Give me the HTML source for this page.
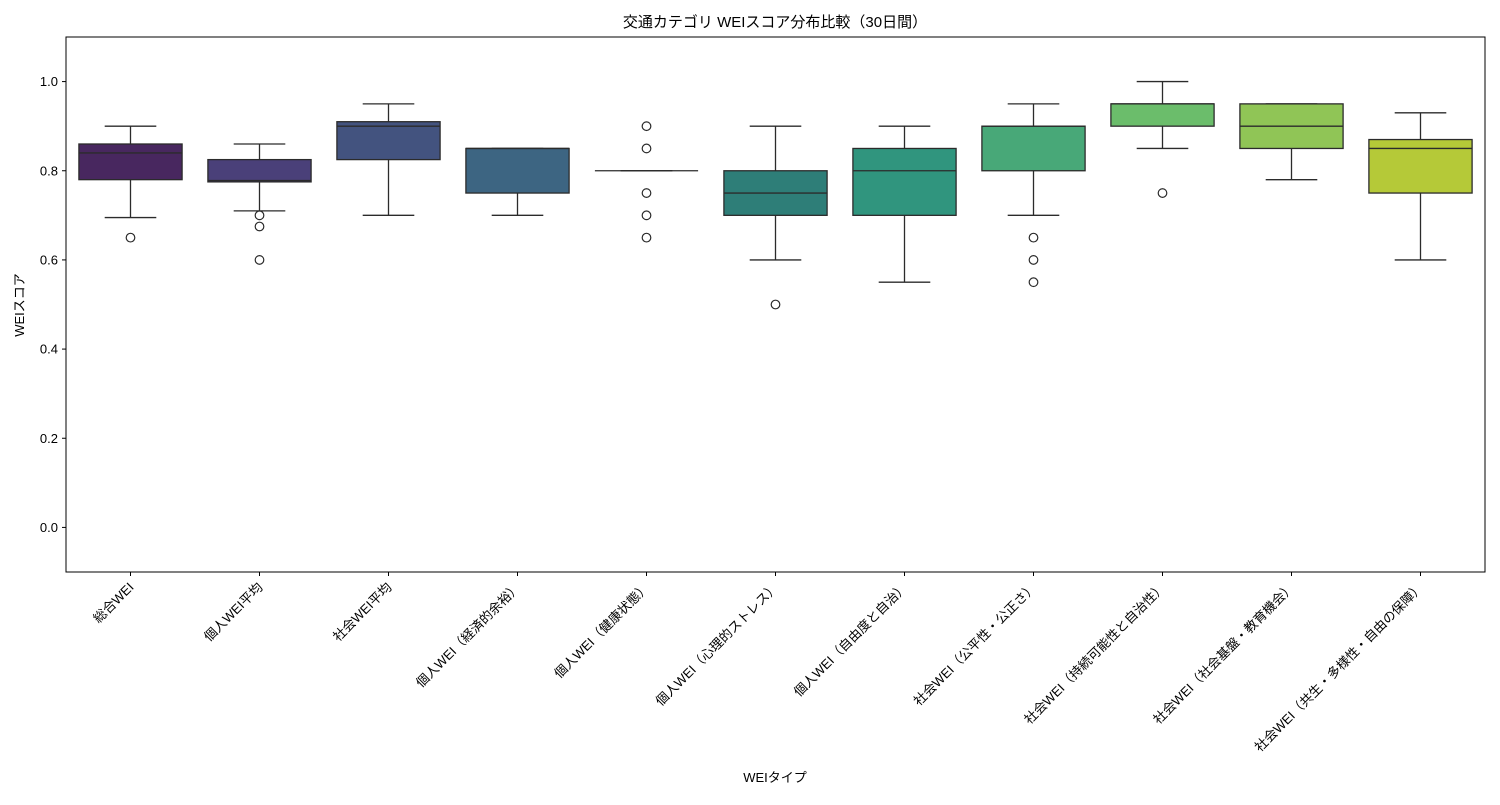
<!DOCTYPE html>
<html><head><meta charset="utf-8">
<style>
body{margin:0;background:#fff;}
svg text{font-family:"Liberation Sans","Noto Sans CJK JP",sans-serif;fill:#000;}
</style></head>
<body>
<svg id="chart" width="1500" height="800" xmlns="http://www.w3.org/2000/svg">
<rect x="0" y="0" width="1500" height="800" fill="#fff"/>
<text x="775" y="27" font-size="15" text-anchor="middle">交通カテゴリ WEIスコア分布比較（30日間）</text>
<g id="plot"></g>
<rect x="66" y="37" width="1419" height="535" fill="none" stroke="#000" stroke-width="1"/>
<text x="775" y="782" font-size="13" text-anchor="middle">WEIタイプ</text>
<text transform="translate(24,305) rotate(-90)" font-size="13" text-anchor="middle">WEIスコア</text>
</svg>
<script>
const categories=["総合WEI","個人WEI平均","社会WEI平均","個人WEI（経済的余裕）","個人WEI（健康状態）","個人WEI（心理的ストレス）","個人WEI（自由度と自治）","社会WEI（公平性・公正さ）","社会WEI（持続可能性と自治性）","社会WEI（社会基盤・教育機会）","社会WEI（共生・多様性・自由の保障）"];
const whiskerLow=[0.695,0.71,0.70,0.70,0.80,0.60,0.55,0.70,0.85,0.78,0.60];
const q1=[0.78,0.775,0.825,0.75,0.80,0.70,0.70,0.80,0.90,0.85,0.75];
const medians=[0.84,0.778,0.90,0.85,0.80,0.75,0.80,0.90,0.95,0.90,0.85];
const q3=[0.86,0.825,0.91,0.85,0.80,0.80,0.85,0.90,0.95,0.95,0.87];
const whiskerHigh=[0.90,0.86,0.95,0.85,0.80,0.90,0.90,0.95,1.00,0.95,0.93];
const outliers=[[0.65],[0.70,0.675,0.60],[],[],[0.90,0.85,0.75,0.70,0.65],[0.50],[],[0.65,0.60,0.55],[0.75],[],[]];
const colors=["#48275f","#4a4079","#43537f","#3d6582","#357574","#2e7e78","#30957e","#48a878","#6bbd6b","#90c556","#b5c938"];
const yTicks=[0.0,0.2,0.4,0.6,0.8,1.0];

const L=66,R=1485,T=37,B=572,yMin=-0.1,yMax=1.1;
const step=(R-L)/categories.length;
const xPos=i=>L+step*(i+0.5);
const yPos=v=>B-(v-yMin)/(yMax-yMin)*(B-T);
const NS="http://www.w3.org/2000/svg";
const svg=document.getElementById('chart');
const g=document.getElementById('plot');
function mk(tag,attrs,parent){const e=document.createElementNS(NS,tag);for(const k in attrs)e.setAttribute(k,attrs[k]);(parent||g).appendChild(e);return e;}

yTicks.forEach(v=>{
  const y=yPos(v);
  const t=mk('line',{x1:L-4,x2:L,y1:y,y2:y,stroke:'#000'});
  
  
  const lb=mk('text',{x:L-8,y:y+4.5,'font-size':13,'text-anchor':'end'});
  
  
  lb.textContent=v.toFixed(1);
});

const bw=step*0.8;
categories.forEach((c,i)=>{
  const x=xPos(i);
  const grp=mk('g',{});
  
  
  const st={stroke:'#2b2b2b','stroke-width':1.3};
  const w1=mk('line',Object.assign({x1:x,x2:x,y1:yPos(whiskerLow[i]),y2:yPos(q1[i])},st),grp);
  
  
  const w2=mk('line',Object.assign({x1:x,x2:x,y1:yPos(q3[i]),y2:yPos(whiskerHigh[i])},st),grp);
  
  
  const c1=mk('line',Object.assign({x1:x-bw/4,x2:x+bw/4,y1:yPos(whiskerLow[i]),y2:yPos(whiskerLow[i])},st),grp);
  
  
  const c2=mk('line',Object.assign({x1:x-bw/4,x2:x+bw/4,y1:yPos(whiskerHigh[i]),y2:yPos(whiskerHigh[i])},st),grp);
  
  
  const r=mk('rect',Object.assign({x:x-bw/2,y:yPos(q3[i]),width:bw,height:Math.max(0,yPos(q1[i])-yPos(q3[i])),fill:colors[i]},st),grp);
  
  
  const m=mk('line',Object.assign({x1:x-bw/2,x2:x+bw/2,y1:yPos(medians[i]),y2:yPos(medians[i])},st),grp);
  
  
  outliers[i].forEach(v=>{
    const o=mk('circle',{cx:x,cy:yPos(v),r:4.3,fill:'none',stroke:'#2b2b2b','stroke-width':1.2},grp);
    
    
  });
  const tk=mk('line',{x1:x,x2:x,y1:B,y2:B+4,stroke:'#000'});
  
  
  const lb=mk('text',{transform:`translate(${x+4},${B+16}) rotate(-45)`,'font-size':13,'text-anchor':'end'});
  
  
  lb.textContent=c;
});
</script>
</body></html>
